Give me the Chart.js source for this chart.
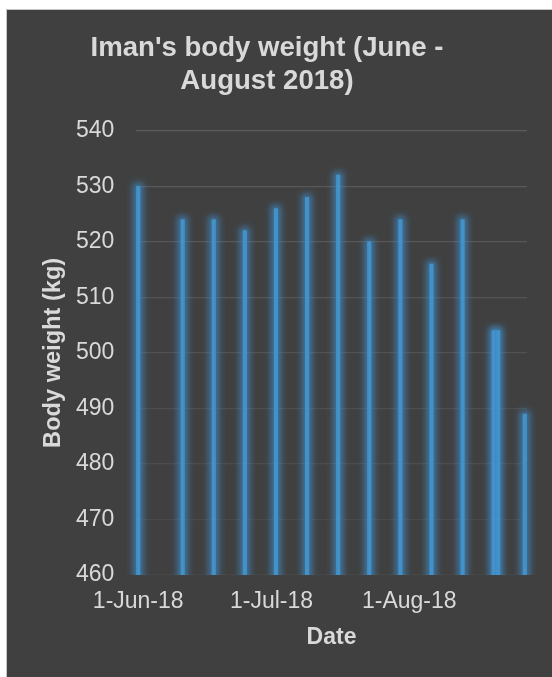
<!DOCTYPE html>
<html>
<head>
<meta charset="utf-8">
<script src="https://cdn.jsdelivr.net/npm/chart.js@4/dist/chart.umd.min.js"></script>
<style>
  html, body { margin: 0; padding: 0; background: #ffffff; width: 552px; height: 677px; overflow: hidden; }
  #frame { position: absolute; left: 6px; top: 9px; border-left: 1px solid #c6c6c6; border-top: 1px solid #c6c6c6; background: #404040; width: 545px; height: 667px; }
  canvas { display: block; }
</style>
</head>
<body>
<div id="frame"><canvas id="c" width="545" height="667"></canvas></div>
<script>
// ---- data ----
const dates = ['2018-06-01','2018-06-11','2018-06-18','2018-06-25','2018-07-02','2018-07-09','2018-07-16',
               '2018-07-23','2018-07-30','2018-08-06','2018-08-13','2018-08-20','2018-08-21','2018-08-27'];
const weights = [530, 524, 524, 522, 526, 528, 532, 520, 524, 516, 524, 504, 504, 489];
const tickDates = ['2018-06-01', '2018-07-01', '2018-08-01'];
const tickLabels = ['1-Jun-18', '1-Jul-18', '1-Aug-18'];
const axisStart = '2018-06-01';
const axisEnd = '2018-08-27';
const yMin = 460, yMax = 540, yStep = 10;
const titleLines = ["Iman's body weight (June -", "August 2018)"];
const xTitle = 'Date';
const yTitle = 'Body weight (kg)';

// ---- helpers ----
const DAY = 86400000;
const t0 = Date.parse(axisStart + 'T00:00:00Z');
const dayNum = s => Math.round((Date.parse(s + 'T00:00:00Z') - t0) / DAY);
const points = dates.map((d, i) => ({ x: dayNum(d), y: weights[i] }));
const tickVals = tickDates.map(dayNum);

const txt = '#d9d9d9';
const fam = "'Liberation Sans', Arial, sans-serif";

// soft glow behind each bar, using the bar geometry computed by Chart.js
const glow = {
  id: 'glow',
  beforeDatasetsDraw(chart) {
    const c = chart.ctx, a = chart.chartArea;
    c.save();
    c.beginPath();
    c.rect(a.left - 20, a.top - 20, a.right - a.left + 40, a.bottom - a.top + 20);
    c.clip();
    c.filter = 'blur(3px)';
    c.fillStyle = 'rgba(62,140,200,0.7)';
    chart.getDatasetMeta(0).data.forEach(el => {
      const p = el.getProps(['x', 'y', 'base', 'width'], true);
      const w = p.width + 7;
      c.fillRect(p.x - w / 2, p.y - 3.5, w, (p.base - p.y) + 10);
    });
    c.restore();
  }
};

new Chart(document.getElementById('c'), {
  type: 'bar',
  data: {
    datasets: [{
      data: points,
      backgroundColor: '#4291c9',
      borderWidth: 0,
      barThickness: 3.5,
      clip: { left: 12, right: 12, top: 12, bottom: 0 }
    }]
  },
  plugins: [glow],
  options: {
    responsive: false,
    animation: false,
    devicePixelRatio: 1,
    layout: { padding: { left: 0, right: 25, top: 0, bottom: 0 } },
    plugins: {
      legend: { display: false },
      tooltip: { enabled: false },
      title: {
        display: true,
        text: titleLines,
        color: txt,
        font: { family: fam, size: 27.6, weight: 'bold', lineHeight: 1.2 },
        padding: { top: 21.5, bottom: 33 }
      }
    },
    scales: {
      x: {
        type: 'linear',
        offset: false,
        min: dayNum(axisStart) - 0.5,
        max: dayNum(axisEnd) + 0.5,
        afterBuildTicks: s => { s.ticks = tickVals.map(v => ({ value: v })); },
        afterFit: s => { s.height = 102; },
        ticks: {
          color: txt,
          font: { family: fam, size: 23 },
          padding: 12.9,
          maxRotation: 0,
          autoSkip: false,
          callback: v => { const i = tickVals.indexOf(v); return i >= 0 ? tickLabels[i] : ''; }
        },
        grid: { display: false, drawTicks: false, offset: false },
        border: { display: false },
        title: {
          display: true,
          text: xTitle,
          color: txt,
          font: { family: fam, size: 23, weight: 'bold' },
          padding: { top: 0, bottom: 25.3 }
        }
      },
      y: {
        min: yMin,
        max: yMax,
        afterFit: s => { s.width = 129; },
        ticks: {
          stepSize: yStep,
          color: txt,
          font: { family: fam, size: 23 },
          padding: 21.7
        },
        grid: {
          drawTicks: false,
          lineWidth: 1.2,
          color: ctx => {
            const v = ctx.tick ? ctx.tick.value : yMin;
            const c = Math.round(70 + (v - yMin) / (yMax - yMin) * 22);
            return `rgb(${c},${c},${c})`;
          }
        },
        border: { display: false },
        title: {
          display: true,
          text: yTitle,
          color: txt,
          font: { family: fam, size: 23.6, weight: 'bold' },
          padding: { top: 32.1, bottom: 0 }
        }
      }
    }
  }
});
</script>
</body>
</html>
